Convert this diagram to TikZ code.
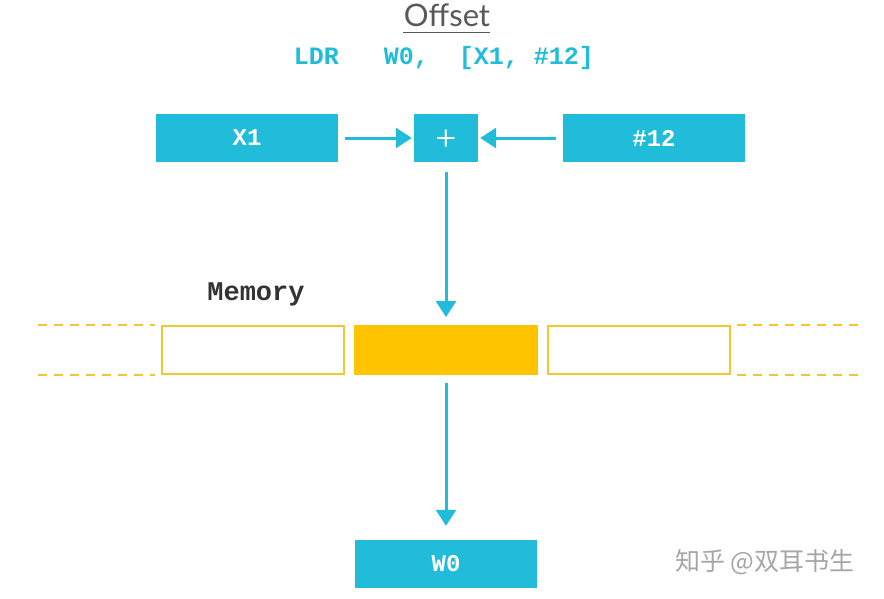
\documentclass[tikz,border=0pt]{standalone}
\usepackage{fontspec}
\setmainfont{Lato}
\setmonofont{Liberation Mono}
\newfontfamily\cjk{Noto Sans CJK SC}
\usetikzlibrary{arrows.meta}
\definecolor{cy}{HTML}{22BCDB}
\definecolor{ye}{HTML}{FFC400}
\definecolor{yo}{HTML}{F2C832}
\begin{document}
\begin{tikzpicture}[x=1pt,y=-1pt,
  reg/.style={fill=cy,draw=none,text=white,font=\ttfamily\bfseries\fontsize{24}{24}\selectfont,minimum height=48pt,inner sep=0pt},
  cell/.style={draw=yo,line width=2pt,minimum width=182pt,minimum height=48pt,inner sep=0pt},
  arr/.style={cy,line width=3pt,-{Triangle[length=16pt,width=20pt]}},
  dsh/.style={yo,line width=1.8pt,dash pattern=on 9pt off 7pt}]
\useasboundingbox (0,0) rectangle (884,598);
\node[text=black!65,font=\fontsize{31}{31}\selectfont] (t) at (447,15) {Offset};
\draw[black!65,line width=1pt] (403,32) -- (490,32);
\node[text=cy,font=\ttfamily\bfseries\fontsize{25}{25}\selectfont] (code) at (444,58) {LDR\ \ \ W0,\ \ [X1, \#12]};
\node[reg,minimum width=182pt] (x1) at (247,138) {X1};
\node[reg,minimum width=64pt,font=\sffamily\bfseries\fontsize{24}{24}\selectfont] (p) at (446,138) {+};
\node[reg,minimum width=182pt] (c) at (654,138) {\#12};
\draw[arr] ([xshift=7pt]x1.east) -- ([xshift=-2pt]p.west);
\draw[arr] ([xshift=-7pt]c.west) -- ([xshift=2pt]p.east);
\node[font=\ttfamily\bfseries\fontsize{27}{27}\selectfont,text=black!80] (mem) at (256,294) {Memory};
\node[cell] (m1) at (253,350) {};
\node[cell,fill=ye,draw=ye] (m2) at (446,350) {};
\node[cell] (m3) at (639,350) {};
\draw[arr] ([yshift=-10pt]p.south) -- ([yshift=8pt]m2.north);
\coordinate (dl1) at (38,325); \coordinate (dl2) at (155,325);
\coordinate (dl3) at (38,375); \coordinate (dl4) at (155,375);
\coordinate (dr1) at (737,325); \coordinate (dr2) at (862,325);
\coordinate (dr3) at (737,375); \coordinate (dr4) at (862,375);
\draw[dsh] (dl1) -- (dl2); \draw[dsh] (dl3) -- (dl4);
\draw[dsh] (dr1) -- (dr2); \draw[dsh] (dr3) -- (dr4);
\node[reg,minimum width=182pt] (w0) at (446,564) {W0};
\draw[arr] ([yshift=-8pt]m2.south) -- ([yshift=14pt]w0.north);
\node[text=black!35,font=\cjk\fontsize{25}{25}\selectfont] (wm) at (765,562) {知乎 @双耳书生};
\end{tikzpicture}
\end{document}
